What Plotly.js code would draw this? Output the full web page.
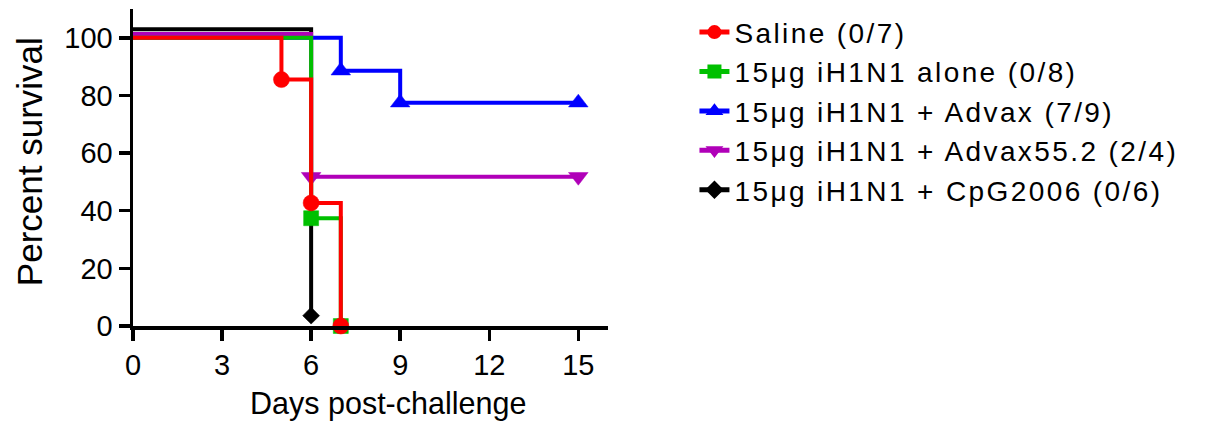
<!DOCTYPE html>
<html>
<head>
<meta charset="utf-8">
<script src="https://cdn.plot.ly/plotly-3.0.1.min.js"></script>
<style>
  html, body { margin: 0; padding: 0; background: #ffffff; }
  #chart { width: 1218px; height: 424px; }
  .legendtext { letter-spacing: 2.4px; }
</style>
</head>
<body>
<div id="chart"></div>
<script>
// Survival data (values as drawn, GraphPad-style small offsets included)
const salineDays = [0, 5, 6, 7];
const salineSurv = [100, 85.5, 42.7, 0];

const aloneDays = [0, 6, 7];
const aloneSurv = [100, 37.4, 0];

const advaxDays = [0, 7, 9, 15];
const advaxSurv = [100, 88.6, 77.5, 77.5];

const advax55Days = [0, 6, 15];
const advax55Surv = [101.3, 51.8, 51.8];

const cpgDays = [0, 6];
const cpgSurv = [103, 3.6];

const seriesNames = [
  "Saline (0/7)",
  "15\u03bcg iH1N1 alone (0/8)",
  "15\u03bcg iH1N1 + Advax (7/9)",
  "15\u03bcg iH1N1 + Advax55.2 (2/4)",
  "15\u03bcg iH1N1 + CpG2006 (0/6)"
];

const xTicks = [0, 3, 6, 9, 12, 15];
const yTicks = [0, 20, 40, 60, 80, 100];

const xTitle = "Days post-challenge";
const yTitle = "Percent survival";

const FONT = "Liberation Sans, Arial, sans-serif";

function sizes(n, s) {
  // no marker on the starting point, marker on each event point
  return Array.from({length: n}, (_, i) => (i === 0 ? 0 : s));
}

function km(x, y, name, color, symbol, msize, rank) {
  return {
    type: "scatter",
    mode: "lines+markers",
    x: x, y: y, name: name,
    legendrank: rank,
    cliponaxis: false,
    opacity: 1,
    line: {shape: "hv", color: color, width: 4},
    marker: {symbol: symbol, color: color, opacity: 1, size: sizes(x.length, msize),
             line: {width: 0.5, color: color}}
  };
}

const traces = [
  km(cpgDays, cpgSurv, seriesNames[4], "#000000", "diamond", 13, 5),
  km(advaxDays, advaxSurv, seriesNames[2], "#0000ff", "triangle-up", 17, 3),
  km(advax55Days, advax55Surv, seriesNames[3], "#b000b8", "triangle-down", 17, 4),
  km(aloneDays, aloneSurv, seriesNames[1], "#00c000", "square", 15, 2),
  km(salineDays, salineSurv, seriesNames[0], "#ff0000", "circle", 16, 1)
];

const layout = {
  width: 1218, height: 424,
  margin: {l: 133, r: 610, t: 7, b: 98},
  paper_bgcolor: "#ffffff",
  plot_bgcolor: "#ffffff",
  font: {family: FONT, color: "#000000", size: 29},
  showlegend: true,
  legend: {
    x: 1.182, xanchor: "left",
    y: 1.005, yanchor: "top",
    itemsizing: "constant",
    font: {family: FONT, size: 28, color: "#000000"},
    bgcolor: "rgba(0,0,0,0)",
    traceorder: "normal"
  },
  xaxis: {
    range: [0, 16],
    tickvals: xTicks,
    ticktext: xTicks.map(String),
    showgrid: false, zeroline: false,
    showline: true, linecolor: "#000000", linewidth: 3.5,
    ticks: "outside", ticklen: 11, tickwidth: 3.5, tickcolor: "#000000",
    tickfont: {family: FONT, size: 29, color: "#000000"}
  },
  yaxis: {
    range: [0, 110],
    tickvals: yTicks,
    ticktext: yTicks.map(String),
    showgrid: false, zeroline: false,
    showline: true, linecolor: "#000000", linewidth: 3.5,
    ticks: "outside", ticklen: 11, tickwidth: 3.5, tickcolor: "#000000",
    tickfont: {family: FONT, size: 29, color: "#000000"}
  },
  annotations: [
    {text: xTitle, xref: "paper", yref: "paper", x: 0.537, y: -0.245,
     xanchor: "center", yanchor: "middle", showarrow: false,
     font: {family: FONT, size: 30.5, color: "#000000"}},
    {text: yTitle, xref: "paper", yref: "paper", x: -0.219, y: 0.52,
     xanchor: "center", yanchor: "middle", showarrow: false, textangle: -90,
     font: {family: FONT, size: 35, color: "#000000"}}
  ]
};

Plotly.newPlot("chart", traces, layout, {displayModeBar: false, staticPlot: true});
</script>
</body>
</html>
